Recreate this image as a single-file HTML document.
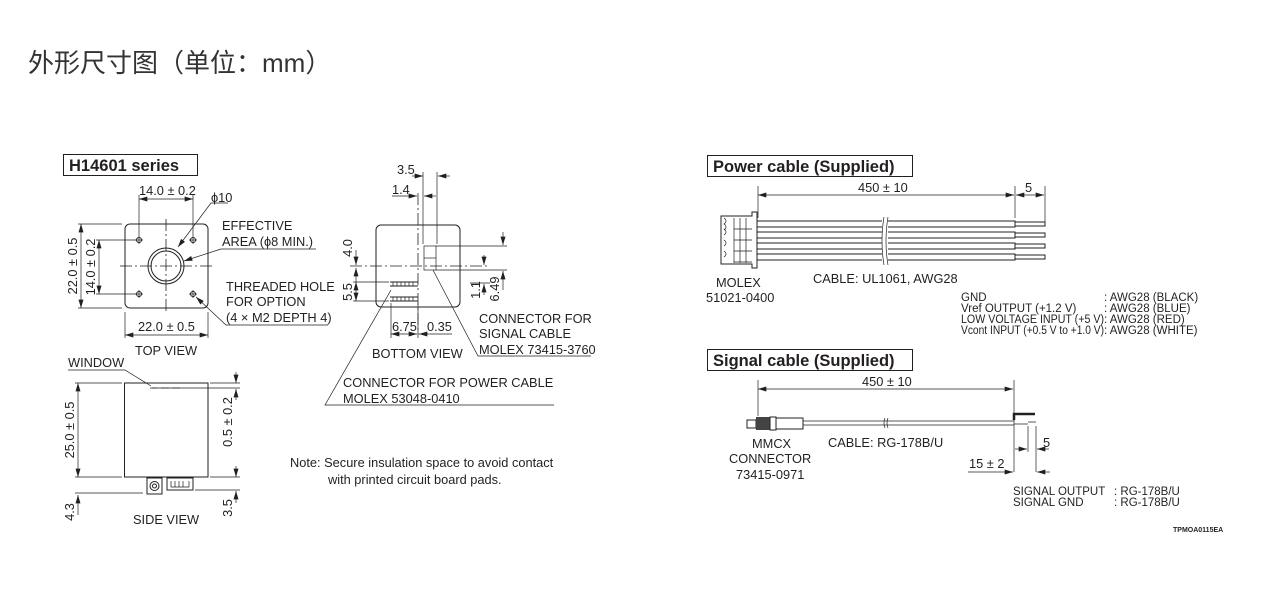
<!DOCTYPE html>
<html><head><meta charset="utf-8"><style>
html,body{margin:0;padding:0;background:#fff;width:1273px;height:592px;overflow:hidden}
svg{display:block}
text{font-family:"Liberation Sans",Arial,sans-serif;fill:#231f20}
.t{font-size:12.8px}
.s{font-size:11.5px}
.h{font-size:16.5px;font-weight:bold}
.l{stroke:#231f20;stroke-width:1;fill:none}
.th{stroke:#231f20;stroke-width:0.7;fill:none}
.dc{stroke:#231f20;stroke-width:0.8;fill:none;stroke-dasharray:12 3 2 3}
</style></head><body>
<svg width="1273" height="592" viewBox="0 0 1273 592" xmlns="http://www.w3.org/2000/svg">
<defs>
<marker id="a" viewBox="0 0 10 6" refX="10" refY="3" markerWidth="9" markerHeight="5" orient="auto-start-reverse" markerUnits="userSpaceOnUse"><path d="M0,0 L10,3 L0,6z" fill="#231f20"/></marker>
</defs>
<text x="28" y="72" style="font-family:'Liberation Sans','Noto Sans CJK SC',sans-serif;font-size:26px;fill:#333">外形尺寸图（单位：mm）</text>

<!-- H14601 header -->
<rect x="63.5" y="154.5" width="134" height="21" class="l" stroke-width="1.2"/>
<text x="69" y="171" class="h">H14601 series</text>

<!-- TOP VIEW -->
<rect x="125" y="224" width="83" height="84" rx="5" class="l" stroke-width="1.3"/>
<line x1="120" y1="266" x2="213" y2="266" class="dc"/>
<line x1="166" y1="219" x2="166" y2="313" class="dc"/>
<circle cx="166" cy="266" r="18" class="l" stroke-width="1.2"/>
<circle cx="166" cy="266" r="15" class="l"/>
<g class="l"><circle cx="139" cy="240" r="2.5"/><circle cx="193" cy="240" r="2.5"/><circle cx="139" cy="294" r="2.5"/><circle cx="193" cy="294" r="2.5"/></g>
<g class="th"><path d="M135,240h8M139,236v8M189,240h8M193,236v8M135,294h8M139,290v8M189,294h8M193,290v8"/></g>
<line x1="139" y1="236" x2="139" y2="195" class="th"/><line x1="193" y1="236" x2="193" y2="195" class="th"/>
<line x1="139" y1="199" x2="193" y2="199" class="th" marker-start="url(#a)" marker-end="url(#a)"/>
<text x="139" y="195" class="t">14.0 ± 0.2</text>
<text x="211" y="202" class="t">ϕ10</text>
<path d="M228,203 H211 L178,247" class="th" marker-end="url(#a)"/>
<path d="M221,249 L184,261" class="th" marker-end="url(#a)"/>
<text x="222" y="230" class="t">EFFECTIVE</text>
<text x="222" y="246" class="t">AREA (ϕ8 MIN.)</text>
<line x1="221" y1="249" x2="316" y2="249" class="th"/>
<text x="226" y="291" class="t">THREADED HOLE</text>
<text x="226" y="306" class="t">FOR OPTION</text>
<text x="226" y="322" class="t">(4 × M2 DEPTH 4)</text>
<path d="M328,325 H226 L196,297" class="th" marker-end="url(#a)"/>
<line x1="78" y1="224" x2="122" y2="224" class="th"/><line x1="78" y1="308" x2="122" y2="308" class="th"/>
<line x1="81" y1="224" x2="81" y2="308" class="th" marker-start="url(#a)" marker-end="url(#a)"/>
<text transform="translate(77,266) rotate(-90)" text-anchor="middle" class="t">22.0 ± 0.5</text>
<line x1="96" y1="240" x2="136" y2="240" class="th"/><line x1="96" y1="294" x2="136" y2="294" class="th"/>
<line x1="99" y1="240" x2="99" y2="294" class="th" marker-start="url(#a)" marker-end="url(#a)"/>
<text transform="translate(95,267) rotate(-90)" text-anchor="middle" class="t">14.0 ± 0.2</text>
<line x1="125" y1="312" x2="125" y2="338" class="th"/><line x1="208" y1="312" x2="208" y2="338" class="th"/>
<line x1="125" y1="335" x2="208" y2="335" class="th" marker-start="url(#a)" marker-end="url(#a)"/>
<text x="138" y="331" class="t">22.0 ± 0.5</text>
<text x="135" y="355" class="t">TOP VIEW</text>

<!-- SIDE VIEW -->
<text x="68" y="367" class="t">WINDOW</text>
<path d="M68,370 H125 L151,386" class="th"/>
<rect x="124.5" y="383" width="83.5" height="94" class="l" stroke-width="1.3"/>
<path d="M152,388h5M161,388h8M172,388h8" class="th"/>
<line x1="75" y1="383" x2="122" y2="383" class="th"/><line x1="75" y1="477" x2="122" y2="477" class="th"/>
<line x1="78" y1="383" x2="78" y2="477" class="th" marker-start="url(#a)" marker-end="url(#a)"/>
<text transform="translate(74,430) rotate(-90)" text-anchor="middle" class="t">25.0 ± 0.5</text>
<line x1="75" y1="493" x2="143" y2="493" class="th"/>
<line x1="78" y1="515" x2="78" y2="495" class="th" marker-end="url(#a)"/>
<text transform="translate(74,512) rotate(-90)" text-anchor="middle" class="t">4.3</text>
<rect x="147" y="478" width="15" height="16" class="l"/><circle cx="154.5" cy="486" r="4.5" class="l"/><circle cx="154.5" cy="486" r="2" class="l"/>
<rect x="167" y="478" width="26" height="12" class="l"/>
<path d="M171,481v6h18v-6M175,481v6M179,481v6M183,481v6" class="th"/>
<line x1="210" y1="383" x2="240" y2="383" class="th"/><line x1="150" y1="388" x2="240" y2="388" class="th"/>
<line x1="236" y1="372" x2="236" y2="383" class="th" marker-end="url(#a)"/>
<line x1="236" y1="400" x2="236" y2="389" class="th" marker-end="url(#a)"/>
<text transform="translate(232,422) rotate(-90)" text-anchor="middle" class="t">0.5 ± 0.2</text>
<line x1="210" y1="477" x2="240" y2="477" class="th"/><line x1="195" y1="490" x2="240" y2="490" class="th"/>
<line x1="236" y1="466" x2="236" y2="477" class="th" marker-end="url(#a)"/>
<line x1="236" y1="503" x2="236" y2="491" class="th" marker-end="url(#a)"/>
<text transform="translate(232,508) rotate(-90)" text-anchor="middle" class="t">3.5</text>
<text x="133" y="524" class="t">SIDE VIEW</text>

<!-- BOTTOM VIEW -->
<rect x="376" y="225" width="84" height="82" rx="5" class="l" stroke-width="1.3"/>
<line x1="350" y1="266" x2="487" y2="266" class="dc"/>
<line x1="418" y1="193" x2="418" y2="335" class="dc"/>
<rect x="424" y="246" width="12" height="24" class="th"/><line x1="424" y1="258" x2="436" y2="258" class="th"/>
<line x1="423" y1="172" x2="423" y2="244" class="th"/><line x1="437" y1="172" x2="437" y2="244" class="th"/>
<line x1="412" y1="176" x2="423" y2="176" class="th" marker-end="url(#a)"/>
<line x1="450" y1="176" x2="438" y2="176" class="th" marker-end="url(#a)"/>
<text x="397" y="174" class="t">3.5</text>
<line x1="408" y1="196" x2="417" y2="196" class="th" marker-end="url(#a)"/>
<line x1="436" y1="196" x2="424" y2="196" class="th" marker-end="url(#a)"/>
<line x1="392" y1="196" x2="412" y2="196" class="th"/>
<text x="392" y="194" class="t">1.4</text>
<line x1="436" y1="246" x2="507" y2="246" class="th"/><line x1="436" y1="270" x2="507" y2="270" class="th"/>
<line x1="503" y1="232" x2="503" y2="245" class="th" marker-end="url(#a)"/>
<line x1="503" y1="290" x2="503" y2="271" class="th" marker-end="url(#a)"/>
<text transform="translate(499,289) rotate(-90)" text-anchor="middle" class="t">6.49</text>
<line x1="484" y1="255" x2="484" y2="265" class="th" marker-end="url(#a)"/>
<line x1="484" y1="295" x2="484" y2="284" class="th" marker-end="url(#a)"/>
<line x1="470" y1="283" x2="490" y2="283" class="th"/>
<text transform="translate(480,290) rotate(-90)" text-anchor="middle" class="t">1.1</text>
<path d="M390,282 H418 M390,286 H418 M390,297 H418 M390,301 H418" class="l"/>
<path d="M393,282v4M397,282v4M401,282v4M405,282v4M409,282v4M413,282v4M393,297v4M397,297v4M401,297v4M405,297v4M409,297v4M413,297v4" class="th"/>
<line x1="353" y1="282" x2="389" y2="282" class="th"/><line x1="353" y1="301" x2="389" y2="301" class="th"/>
<line x1="356" y1="250" x2="356" y2="265" class="th" marker-end="url(#a)"/>
<line x1="356" y1="268" x2="356" y2="282" class="th" marker-start="url(#a)"/>
<line x1="356" y1="282" x2="356" y2="301" class="th" marker-start="url(#a)" marker-end="url(#a)"/>
<text transform="translate(352,248) rotate(-90)" text-anchor="middle" class="t">4.0</text>
<text transform="translate(352,292) rotate(-90)" text-anchor="middle" class="t">5.5</text>
<line x1="391" y1="303" x2="391" y2="338" class="th"/><line x1="418" y1="303" x2="418" y2="338" class="th"/>
<line x1="391" y1="334" x2="417" y2="334" class="th" marker-start="url(#a)" marker-end="url(#a)"/>
<line x1="430" y1="334" x2="419" y2="334" class="th" marker-end="url(#a)"/>
<line x1="430" y1="334" x2="452" y2="334" class="th"/>
<text x="392" y="331" class="t">6.75</text>
<text x="427" y="331" class="t">0.35</text>
<text x="372" y="358" class="t">BOTTOM VIEW</text>
<path d="M433,270 L478,356 H591" class="th"/>
<text x="479" y="323" class="t">CONNECTOR FOR</text>
<text x="479" y="338" class="t">SIGNAL CABLE</text>
<text x="479" y="354" class="t">MOLEX 73415-3760</text>
<path d="M391,290 L325,405 H554" class="th"/>
<text x="343" y="387" class="t">CONNECTOR FOR POWER CABLE</text>
<text x="343" y="403" class="t">MOLEX 53048-0410</text>
<text x="290" y="467" class="t">Note: Secure insulation space to avoid contact</text>
<text x="328" y="484" class="t">with printed circuit board pads.</text>

<!-- POWER CABLE -->
<rect x="707.5" y="155.5" width="205" height="21" class="l" stroke-width="1.2"/>
<text x="713" y="172" class="h">Power cable (Supplied)</text>
<line x1="758" y1="186" x2="758" y2="218" class="th"/>
<line x1="1015" y1="186" x2="1015" y2="218" class="th"/>
<line x1="1045" y1="186" x2="1045" y2="222" class="th"/>
<line x1="758" y1="195" x2="1014" y2="195" class="th" marker-start="url(#a)" marker-end="url(#a)"/>
<line x1="1016" y1="195" x2="1044" y2="195" class="th" marker-start="url(#a)" marker-end="url(#a)"/>
<text x="858" y="192" class="t">450 ± 10</text>
<text x="1025" y="192" class="t">5</text>
<path d="M721,216 H752 V212 H757 V268 H752 V264 H721z" class="l"/>
<path d="M724,218 q4,3 0,6 q4,3 0,6 M724,229 q4,3 0,6 M724,240 q4,3 0,6 M724,251 q4,3 0,6" class="th"/>
<path d="M734,218 V263 M740,218 V263 M746,218 V263 M734,229 H752 M734,240 H752 M734,251 H752 M734,262 H752" class="th"/>
<g class="l">
<path d="M757,221 H1015 V227 H757 M757,232 H1015 V238 H757 M757,243 H1015 V249 H757 M757,254 H1015 V260 H757"/>
<path d="M1015,222 H1045 V226 H1015 M1015,233 H1045 V237 H1015 M1015,244 H1045 V248 H1015 M1015,255 H1045 V259 H1015"/>
</g>
<rect x="882" y="218" width="6" height="45" fill="#fff"/>
<path d="M884,217 q-4,24 0,48 M888,217 q-4,24 0,48" class="th"/>
<text x="716" y="287" class="t">MOLEX</text>
<text x="706" y="302" class="t">51021-0400</text>
<text x="813" y="283" class="t">CABLE: UL1061, AWG28</text>
<text x="961" y="301" class="s">GND</text>
<text x="1104" y="301" class="s">: AWG28 (BLACK)</text>
<text x="961" y="312" class="s">Vref OUTPUT (+1.2 V)</text>
<text x="1104" y="312" class="s">: AWG28 (BLUE)</text>
<text x="961" y="323" class="s" textLength="143" lengthAdjust="spacingAndGlyphs">LOW VOLTAGE INPUT (+5 V)</text>
<text x="1104" y="323" class="s">: AWG28 (RED)</text>
<text x="961" y="334" class="s" textLength="143" lengthAdjust="spacingAndGlyphs">Vcont INPUT (+0.5 V to +1.0 V)</text>
<text x="1104" y="334" class="s">: AWG28 (WHITE)</text>

<!-- SIGNAL CABLE -->
<rect x="707.5" y="349.5" width="205" height="21" class="l" stroke-width="1.2"/>
<text x="713" y="366" class="h">Signal cable (Supplied)</text>
<line x1="758" y1="380" x2="758" y2="416" class="th"/>
<line x1="1014" y1="380" x2="1014" y2="472" class="th"/>
<line x1="758" y1="389" x2="1013" y2="389" class="th" marker-start="url(#a)" marker-end="url(#a)"/>
<text x="862" y="386" class="t">450 ± 10</text>
<rect x="747" y="420" width="9" height="8" class="l"/>
<rect x="756" y="417" width="14" height="13" fill="#444"/>
<rect x="770" y="417" width="6" height="13" class="l"/>
<rect x="776" y="418" width="27" height="11" class="l"/>
<path d="M803,421 H1014 M803,425 H1014" class="th"/>
<path d="M885,418 q-2,5 0,10 M888,418 q-2,5 0,10" class="th"/>
<path d="M1014,420 V414 H1035" stroke="#231f20" stroke-width="2.5" fill="none"/>
<path d="M1014,424 H1028 M1028,422 H1036" class="th" stroke-width="1.2"/>
<line x1="1028" y1="426" x2="1028" y2="452" class="th"/>
<line x1="1036" y1="426" x2="1036" y2="472" class="th"/>
<line x1="1015" y1="449" x2="1027" y2="449" class="th" marker-end="url(#a)"/>
<line x1="1049" y1="449" x2="1037" y2="449" class="th" marker-end="url(#a)"/>
<text x="1043" y="447" class="t">5</text>
<line x1="968" y1="472" x2="1013" y2="472" class="th" marker-end="url(#a)"/>
<line x1="1050" y1="472" x2="1037" y2="472" class="th" marker-end="url(#a)"/>
<text x="969" y="468" class="t">15 ± 2</text>
<text x="752" y="448" class="t">MMCX</text>
<text x="729" y="463" class="t">CONNECTOR</text>
<text x="736" y="479" class="t">73415-0971</text>
<text x="828" y="447" class="t">CABLE: RG-178B/U</text>
<text x="1013" y="495" class="s">SIGNAL OUTPUT</text>
<text x="1114" y="495" class="s">: RG-178B/U</text>
<text x="1013" y="506" class="s">SIGNAL GND</text>
<text x="1114" y="506" class="s">: RG-178B/U</text>
<text x="1173" y="532" style="font-size:7px;font-weight:bold">TPMOA0115EA</text>
</svg>
</body></html>
